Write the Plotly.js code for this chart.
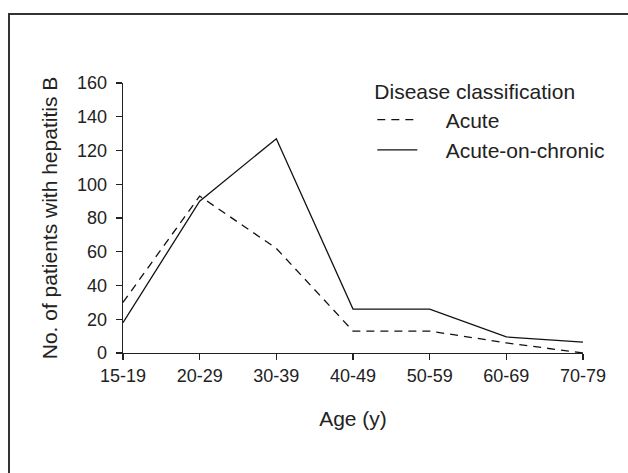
<!DOCTYPE html>
<html>
<head>
<meta charset="utf-8">
<script src="https://cdn.plot.ly/plotly-3.0.1.min.js"></script>
<style>html,body{margin:0;padding:0;background:#fff;}#chart{width:628px;height:473px;}</style>
</head>
<body>
<div id="chart"></div>
<script>
var ageGroups = ["15-19", "20-29", "30-39", "40-49", "50-59", "60-69", "70-79"];
var acute = [30, 93, 62, 13, 13, 6, 0];
var acuteOnChronic = [18, 90, 127, 26, 26, 9.5, 6.5];
var yTicks = [0, 20, 40, 60, 80, 100, 120, 140, 160];
var seriesNames = ["Acute", "Acute-on-chronic"];

var font = "Liberation Sans, Arial, sans-serif";
var pad = "\u00a0\u00a0\u00a0\u00a0";

var traces = [
  {
    x: ageGroups, y: acute, type: "scatter", mode: "lines", name: pad + seriesNames[0],
    line: {color: "#111", width: 1.3, dash: "8px,6px"}
  },
  {
    x: ageGroups, y: acuteOnChronic, type: "scatter", mode: "lines", name: pad + seriesNames[1],
    line: {color: "#111", width: 1.3}
  }
];

var layout = {
  width: 628, height: 473,
  margin: {l: 123, r: 45, t: 83, b: 120, pad: 0},
  paper_bgcolor: "#fff", plot_bgcolor: "#fff",
  font: {family: font, size: 18, color: "#222"},
  showlegend: true,
  legend: {
    x: 0.542, y: 1.04, xanchor: "left", yanchor: "top",
    bgcolor: "rgba(0,0,0,0)",
    font: {family: font, size: 21, color: "#222"},
    title: {text: "Disease classification", font: {family: font, size: 21, color: "#222"}},
    itemwidth: 40, tracegroupgap: 0
  },
  xaxis: {
    type: "category", range: [0, 6], showgrid: false, zeroline: false,
    showline: true, linecolor: "#222", linewidth: 1.3,
    ticks: "outside", ticklen: 6, tickcolor: "#222", tickwidth: 1.3,
    tickfont: {family: font, size: 18, color: "#222"},
    title: {text: "Age (y)", font: {family: font, size: 21, color: "#222"}, standoff: 26}
  },
  yaxis: {
    range: [0, 160], tickvals: yTicks, showgrid: false, zeroline: false,
    showline: true, linecolor: "#222", linewidth: 1.3,
    ticks: "outside", ticklen: 6, tickcolor: "#222", tickwidth: 1.3,
    ticklabelstandoff: 5,
    tickfont: {family: font, size: 18, color: "#222"},
    title: {text: "No. of patients with hepatitis B", font: {family: font, size: 21, color: "#222"}, standoff: 13}
  },
  shapes: [
    {type: "rect", xref: "paper", yref: "paper",
     x0: (9 - 123) / 460, x1: 1.3, y0: -0.6, y1: (353 - 14) / 270,
     line: {color: "#333", width: 2}}
  ]
};

Plotly.newPlot("chart", traces, layout, {staticPlot: true, displayModeBar: false});
</script>
</body>
</html>
